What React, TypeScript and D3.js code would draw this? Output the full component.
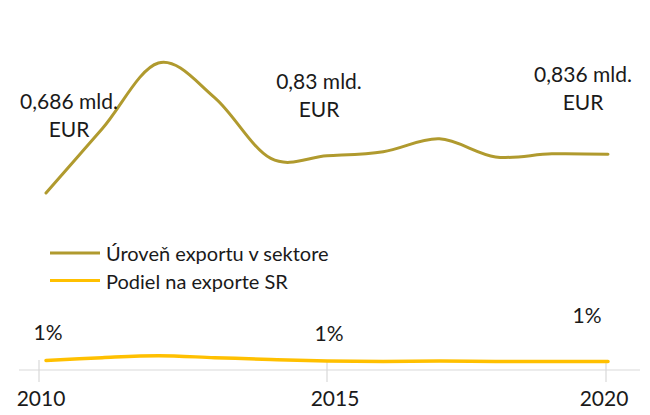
import React from "react";
import * as d3 from "d3";

const years = [2010, 2011, 2012, 2013, 2014, 2015, 2016, 2017, 2018, 2019, 2020];
const exportLevel = [0.686, 0.935, 1.19, 1.056, 0.82, 0.83, 0.846, 0.896, 0.826, 0.838, 0.836];
const exportShare = [1.0, 1.3, 1.5, 1.3, 1.1, 0.95, 0.9, 0.95, 0.9, 0.9, 0.9];
const tickYears = [2010, 2015, 2020];
const levelLabels = [
  { year: 2010, lines: ["0,686 mld.", "EUR"] },
  { year: 2015, lines: ["0,83 mld.", "EUR"] },
  { year: 2020, lines: ["0,836 mld.", "EUR"] },
];
const shareLabels = [
  { year: 2010, text: "1%" },
  { year: 2015, text: "1%" },
  { year: 2020, text: "1%" },
];
const seriesNames = ["Úroveň exportu v sektore", "Podiel na exporte SR"];

const W = 650;
const H = 415;
const GOLD = "#b09a2e";
const YELLOW = "#ffc000";
const TEXT = "#1a1a1a";
const FONT = "Lato, 'Open Sans', sans-serif";

export default function App() {
  const x = d3.scaleLinear().domain([2010, 2020]).range([46, 608]);
  const tickX = d3.scaleLinear().domain([2010, 2015, 2020]).range([39, 327, 606]);
  const labelX = d3.scaleLinear().domain([2010, 2015, 2020]).range([41, 335, 604]);
  const axisY = 370;
  const yLeft = d3.scaleLinear().domain([0, 1]).range([axisY, axisY - 258]);
  const yRight = d3.scaleLinear().domain([0, 1]).range([axisY, axisY - 9.5]);

  const curve = d3.curveCardinal.tension(0);
  const lineLevel = d3
    .line<number>()
    .x((_, i) => x(years[i]))
    .y((d) => yLeft(d))
    .curve(curve);
  const lineShare = d3
    .line<number>()
    .x((_, i) => x(years[i]))
    .y((d) => yRight(d))
    .curve(curve);

  const levelOffsets: Record<number, [number, number]> = {
    2010: [23, -93],
    2015: [-8, -76],
    2020: [-25, -81],
  };
  const shareOffsets: Record<number, [number, number]> = {
    2010: [2, -29],
    2015: [2, -28],
    2020: [-21, -47],
  };

  return (
    <svg
      width={W}
      height={H}
      viewBox={`0 0 ${W} ${H}`}
      style={{ position: "absolute", left: 0, top: 0, background: "#fff" }}
      fontFamily={FONT}
    >
      <rect width={W} height={H} fill="#fff" />
      {/* axis */}
      <line x1={19} x2={640} y1={axisY} y2={axisY} stroke="#d9d9d9" strokeWidth={1.2} />
      {tickYears.map((t) => (
        <g key={t}>
          <line x1={tickX(t)} x2={tickX(t)} y1={360} y2={382} stroke="#d9d9d9" strokeWidth={1.2} />
          <text
            x={labelX(t)}
            y={397}
            textAnchor="middle"
            dominantBaseline="central"
            fontSize={21}
            fill={TEXT}
          >
            {t}
          </text>
        </g>
      ))}
      {/* lines */}
      <path d={lineLevel(exportLevel) || ""} fill="none" stroke={GOLD} strokeWidth={3} strokeLinecap="round" />
      <path d={lineShare(exportShare) || ""} fill="none" stroke={YELLOW} strokeWidth={3.5} strokeLinecap="round" />
      {/* level labels */}
      {levelLabels.map((l) => {
        const i = years.indexOf(l.year);
        const [dx, dy] = levelOffsets[l.year];
        const cx = x(l.year) + dx;
        const cy = yLeft(exportLevel[i]) + dy;
        return (
          <text key={l.year} textAnchor="middle" dominantBaseline="central" fontSize={21} fill={TEXT}>
            {l.lines.map((s, k) => (
              <tspan key={k} x={cx} y={cy + k * 28}>
                {s}
              </tspan>
            ))}
          </text>
        );
      })}
      {/* share labels */}
      {shareLabels.map((l) => {
        const i = years.indexOf(l.year);
        const [dx, dy] = shareOffsets[l.year];
        return (
          <text
            key={l.year}
            x={x(l.year) + dx}
            y={yRight(exportShare[i]) + dy}
            textAnchor="middle"
            dominantBaseline="central"
            fontSize={21}
            fill={TEXT}
          >
            {l.text}
          </text>
        );
      })}
      {/* legend */}
      {seriesNames.map((n, k) => (
        <g key={n}>
          <line
            x1={50}
            x2={100}
            y1={253 + k * 27.5}
            y2={253 + k * 27.5}
            stroke={k === 0 ? GOLD : YELLOW}
            strokeWidth={3}
          />
          <text x={106} y={253 + k * 27.5} dominantBaseline="central" fontSize={20} fill={TEXT}>
            {n}
          </text>
        </g>
      ))}
    </svg>
  );
}
